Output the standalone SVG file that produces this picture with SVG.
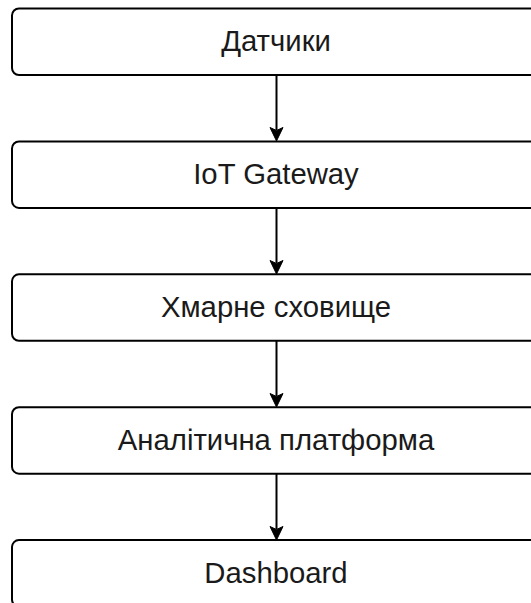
<svg xmlns="http://www.w3.org/2000/svg" width="531" height="603" viewBox="0 0 531 603">
<style>
.box{fill:#fff;stroke:#000;stroke-width:2}
.lbl{font-family:"Liberation Sans",Arial,sans-serif;font-size:29.3px;fill:#1a1a1a;text-anchor:middle}
.edge{fill:none;stroke:#000;stroke-width:2}
.head{fill:#000;stroke:#000;stroke-width:1}
</style>
<rect width="531" height="603" fill="#fff"/>
<g id="connectors">
<path class="edge" d="M276.5 75 V130"/>
<path class="head" d="M276.5 141 L270 127.5 L276.5 130.5 L283 127.5 Z"/>
<path class="edge" d="M276.5 208 V263"/>
<path class="head" d="M276.5 274 L270 260.5 L276.5 263.5 L283 260.5 Z"/>
<path class="edge" d="M276.5 341 V396"/>
<path class="head" d="M276.5 407 L270 393.5 L276.5 396.5 L283 393.5 Z"/>
<path class="edge" d="M276.5 474 V529"/>
<path class="head" d="M276.5 540 L270 526.5 L276.5 529.5 L283 526.5 Z"/>
</g>
<g id="node-sensors">
<rect class="box" x="12" y="8.5" width="529" height="66.5" rx="7"/>
<text class="lbl" x="276" y="51.3">Датчики</text>
</g>
<g id="node-gateway">
<rect class="box" x="12" y="141.4" width="529" height="66.5" rx="7"/>
<text class="lbl" x="276" y="184">IoT Gateway</text>
</g>
<g id="node-cloud">
<rect class="box" x="12" y="274.3" width="529" height="66.5" rx="7"/>
<text class="lbl" x="276" y="317">Хмарне сховище</text>
</g>
<g id="node-analytics">
<rect class="box" x="12" y="407.2" width="529" height="66.5" rx="7"/>
<text class="lbl" x="276" y="450">Аналітична платформа</text>
</g>
<g id="node-dashboard">
<rect class="box" x="12" y="540.1" width="529" height="66.5" rx="7"/>
<text class="lbl" x="276" y="582.8">Dashboard</text>
</g>
</svg>
